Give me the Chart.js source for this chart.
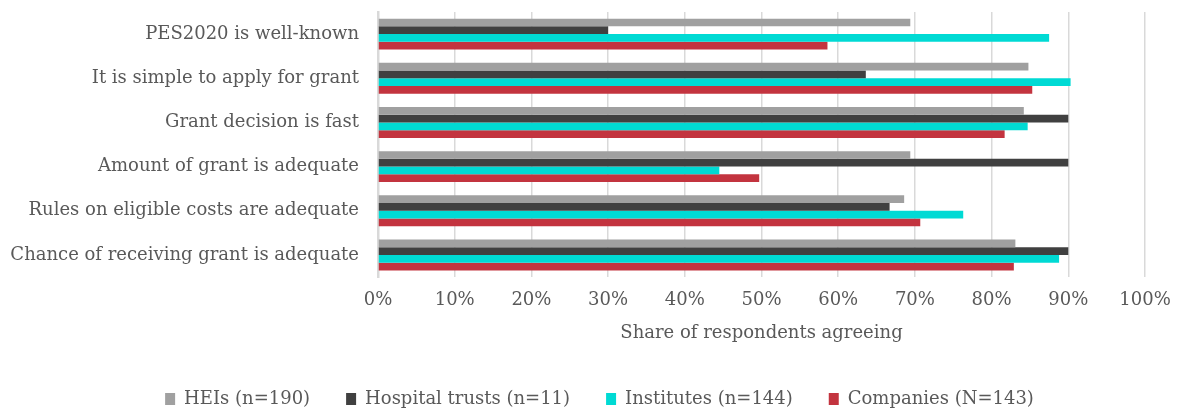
<!DOCTYPE html>
<html>
<head>
<meta charset="utf-8">
<script src="https://cdn.jsdelivr.net/npm/chart.js@4/dist/chart.umd.min.js"></script>
<style>
  html, body { margin: 0; padding: 0; background: #fff; }
  #wrap { width: 1179px; height: 412px; }
</style>
</head>
<body>
<div id="wrap"><canvas id="chart"></canvas></div>
<script>
// survey statements, top to bottom
const statements = [
    'PES2020 is well-known',
    'It is simple to apply for grant',
    'Grant decision is fast',
    'Amount of grant is adequate',
    'Rules on eligible costs are adequate',
    'Chance of receiving grant is adequate'
];

// share agreeing (%)
const heis       = [69.4, 84.8, 84.2, 69.4, 68.6, 83.1];
const hospitals  = [30.0, 63.6, 90.0, 90.0, 66.7, 90.0];
const institutes = [87.5, 90.3, 84.7, 44.5, 76.3, 88.8];
const companies  = [58.6, 85.3, 81.7, 49.7, 70.7, 82.9];

const seriesNames = ['HEIs (n=190)', 'Hospital trusts (n=11)', 'Institutes (n=144)', 'Companies (N=143)'];
const xTicks = [0, 10, 20, 30, 40, 50, 60, 70, 80, 90, 100];

const colors = ['#A0A0A0', '#404040', '#00DAD4', '#C3343F'];
const textColor = '#595959';
const fontFamily = '"DejaVu Serif", Georgia, serif';

const seriesData = [heis, hospitals, institutes, companies];

// the legend in the original sits a bit right of centre
const legendShift = {
    id: 'legendShift',
    afterLayout(chart) {
        if (chart.legend) {
            chart.legend.left += 10;
            chart.legend.right += 10;
        }
    }
};

new Chart(document.getElementById('chart'), {
    type: 'bar',
    data: {
        labels: statements,
        datasets: seriesData.map((vals, i) => ({
            label: seriesNames[i],
            data: vals,
            backgroundColor: colors[i],
            borderWidth: 0,
            categoryPercentage: 0.7,
            barPercentage: 1.0
        }))
    },
    options: {
        indexAxis: 'y',
        responsive: true,
        maintainAspectRatio: false,
        animation: false,
        layout: {
            padding: { top: 12, right: 0, bottom: -6, left: 0 }
        },
        scales: {
            x: {
                min: 0,
                max: 100,
                afterBuildTicks: (scale) => {
                    scale.ticks = xTicks.map(v => ({ value: v }));
                },
                afterFit: (scale) => {
                    scale.height = 77;
                    scale.paddingLeft = 0;
                    scale.paddingRight = 34;
                },
                ticks: {
                    color: textColor,
                    font: { family: fontFamily, size: 18 },
                    padding: 13,
                    callback: (v) => v + '%'
                },
                grid: {
                    color: '#D9D9D9',
                    lineWidth: 1.5,
                    drawTicks: false
                },
                border: { display: false },
                title: {
                    display: true,
                    text: 'Share of respondents agreeing',
                    color: textColor,
                    font: { family: fontFamily, size: 18 },
                    padding: { top: 12, bottom: 10 }
                }
            },
            y: {
                afterFit: (scale) => {
                    scale.width = 378;
                    scale.paddingTop = 0;
                    scale.paddingBottom = 0;
                },
                ticks: {
                    color: textColor,
                    font: { family: fontFamily, size: 18 },
                    padding: 19
                },
                grid: { display: false, drawTicks: false },
                border: { display: true, color: '#D9D9D9', width: 2.5 }
            }
        },
        plugins: {
            legend: {
                position: 'bottom',
                labels: {
                    color: textColor,
                    font: { family: fontFamily, size: 18 },
                    boxWidth: 10,
                    boxHeight: 12,
                    padding: 36
                }
            },
            tooltip: { enabled: false }
        }
    },
    plugins: [legendShift]
});
</script>
</body>
</html>
